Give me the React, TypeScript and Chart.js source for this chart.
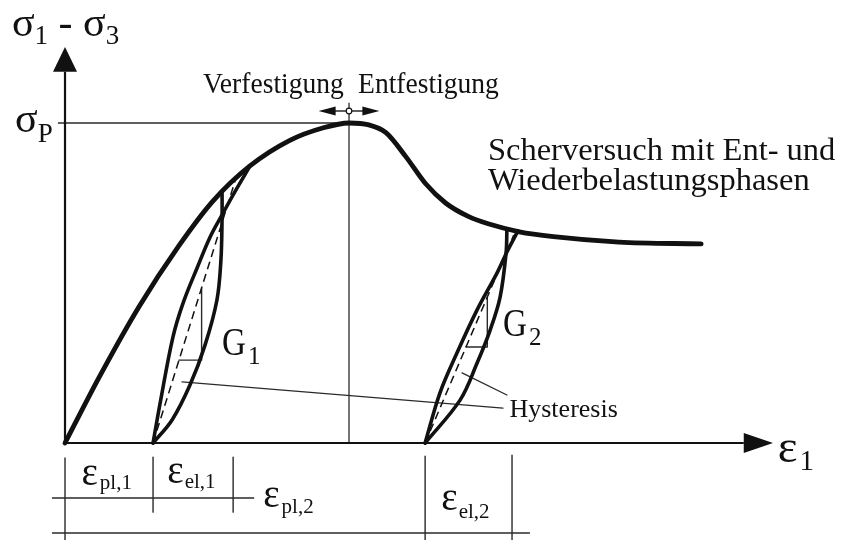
import React, { useEffect, useRef } from 'react';
import { Chart, registerables } from 'chart.js';

Chart.register(...registerables);

const FONT = '"Liberation Serif", "Times New Roman", serif';
const INK = '#111111';
const THIN = '#2a2a2a';

// Strain ε1 (arbitrary units) against deviator stress σ1-σ3 (peak σP = 100)
const envelopeEps = [0, 1.2, 2.6, 4.0, 5.2, 6.5, 7.9, 9.1, 10, 10.7, 11.3, 12.0, 12.7, 13.4, 14.2, 14.9, 16.0, 17.2, 19.5, 22.4];
const envelopeSig = [0, 20.5, 42.5, 61.5, 75.5, 86.5, 94.5, 98.5, 100, 99.4, 97, 89.5, 81, 75, 70.8, 68.5, 66, 64.5, 62.8, 62.2];

// first unloading / reloading cycle (hardening branch)
const unload1Eps = [5.53, 5.53, 5.49, 5.35, 4.93, 4.40, 3.77, 3.10];
const unload1Sig = [78.6, 70.3, 57.2, 44.7, 30.6, 18.1, 7.2, 0];
const reload1Eps = [3.10, 3.35, 3.80, 4.16, 4.65, 5.11, 5.53, 6.02, 6.51];
const reload1Sig = [0, 12.5, 33.1, 43.8, 54.7, 64.4, 71.3, 79.1, 86.5];

// second unloading / reloading cycle (softening branch)
const unload2Eps = [15.56, 15.53, 15.32, 14.97, 14.51, 13.91, 12.68];
const unload2Sig = [66.9, 59.4, 45.6, 35.3, 25.0, 13.4, 0];
const reload2Eps = [12.68, 13.20, 13.80, 14.51, 15.21, 15.56, 15.95];
const reload2Sig = [0, 15.6, 28.1, 41.6, 53.1, 59.7, 66.3];

// secant moduli G1, G2 and their slope triangles
const secant1Eps = [3.10, 6.02];
const secant1Sig = [0, 82.8];
const secant2Eps = [12.68, 15.80];
const secant2Sig = [0, 65.0];
const slope1Eps = [4.81, 4.81, 4.01];
const slope1Sig = [48.4, 25.9, 25.9];
const slope2Eps = [14.87, 14.87, 14.12];
const slope2Sig = [45.6, 30.0, 30.0];

// leader lines of the "Hysteresis" note
const leader1Eps = [4.12, 15.42];
const leader1Sig = [19.1, 10.9];
const leader2Eps = [15.56, 13.98];
const leader2Sig = [15.0, 21.9];

// peak marks
const peakEps = 10;
const peakLineTop = 106.3;
const peakArrowSig = 103.75;
const peakArrowTips = [8.93, 11.07];
const sigmaP = 100;
const sigmaPLineStart = -0.25;

// axes
const yAxisEnd = 116;
const yAxisTip = 123.75;
const xAxisEnd = 23.9;
const xAxisTip = 24.93;

// strain dimension lines below the axis
const dimEps = [0, 3.10, 5.92, 12.68, 15.74];
const dimTop = [-4.7, -4.4, -4.4, -4.1, -3.8];
const dimBottom = [-31, -21.6, -21.6, -31, -31];
const dimRowSig = [-17.2, -28.1];
const dimRowStart = [-0.46, -0.46];
const dimRowEnd = [6.66, 16.37];

type Seg = { t: string; size: number; dy?: number; gap?: number; sx?: number };
type Label = { e: number; s: number; segs: Seg[] };

const labels: Label[] = [
  { e: -1.87, s: 127.2, segs: [{ t: 'σ', size: 42 }, { t: '1', size: 27, dy: 8 }, { t: ' - ', size: 42 }, { t: 'σ', size: 42 }, { t: '3', size: 27, dy: 8 }] },
  { e: -1.76, s: 97.2, segs: [{ t: 'σ', size: 42 }, { t: 'P', size: 27, dy: 10 }] },
  { e: 4.86, s: 109.4, segs: [{ t: 'Verfestigung', size: 29, sx: 0.95 }] },
  { e: 10.32, s: 109.4, segs: [{ t: 'Entfestigung', size: 29, sx: 0.95 }] },
  { e: 14.89, s: 88.4, segs: [{ t: 'Scherversuch mit Ent- und', size: 32.5 }] },
  { e: 14.89, s: 79.1, segs: [{ t: 'Wiederbelastungsphasen', size: 32.5 }] },
  { e: 5.53, s: 27.5, segs: [{ t: 'G', size: 39, sx: 0.85, gap: 2 }, { t: '1', size: 25, dy: 9 }] },
  { e: 15.42, s: 33.4, segs: [{ t: 'G', size: 39, sx: 0.85, gap: 2 }, { t: '2', size: 25, dy: 9 }] },
  { e: 15.65, s: 8.1, segs: [{ t: 'Hysteresis', size: 26 }] },
  { e: 25.1, s: -5.9, segs: [{ t: 'ε', size: 47, gap: 2 }, { t: '1', size: 29, dy: 8 }] },
  { e: 0.58, s: -13.1, segs: [{ t: 'ε', size: 39, gap: 2 }, { t: 'pl,1', size: 21, dy: 4 }] },
  { e: 3.60, s: -12.5, segs: [{ t: 'ε', size: 39, gap: 1 }, { t: 'el,1', size: 21, dy: 5 }] },
  { e: 6.98, s: -20.0, segs: [{ t: 'ε', size: 39, gap: 2 }, { t: 'pl,2', size: 21, dy: 6 }] },
  { e: 13.25, s: -20.9, segs: [{ t: 'ε', size: 39, gap: 1 }, { t: 'el,2', size: 21, dy: 8 }] },
];

const pts = (xs: number[], ys: number[]) => xs.map((x, i) => ({ x, y: ys[i] }));

const seg = (data: { x: number; y: number }[], width: number, extra: Record<string, unknown> = {}) => ({
  data,
  showLine: true,
  borderColor: INK,
  borderWidth: width,
  pointRadius: 0,
  pointHoverRadius: 0,
  fill: false,
  tension: 0,
  borderCapStyle: 'round',
  borderJoinStyle: 'round',
  ...extra,
});

const annotate = {
  id: 'annotate',
  afterDatasetsDraw(chart: any) {
    const { ctx } = chart;
    const X = (v: number) => chart.scales.x.getPixelForValue(v);
    const Y = (v: number) => chart.scales.y.getPixelForValue(v);
    const tri = (a: number[], b: number[], c: number[]) => {
      ctx.beginPath();
      ctx.moveTo(a[0], a[1]);
      ctx.lineTo(b[0], b[1]);
      ctx.lineTo(c[0], c[1]);
      ctx.closePath();
      ctx.fill();
    };
    ctx.save();
    ctx.fillStyle = INK;

    // axis arrowheads
    const ox = X(0);
    const oy = Y(0);
    tri([ox, Y(yAxisTip)], [ox - 12, Y(yAxisEnd)], [ox + 12, Y(yAxisEnd)]);
    tri([X(xAxisTip), oy], [X(xAxisEnd), oy - 10], [X(xAxisEnd), oy + 10]);

    // hardening / softening arrows at the peak
    const ay = Y(peakArrowSig);
    const lt = X(peakArrowTips[0]);
    const rt = X(peakArrowTips[1]);
    ctx.strokeStyle = THIN;
    ctx.lineWidth = 1.3;
    ctx.beginPath();
    ctx.moveTo(lt + 10, ay);
    ctx.lineTo(rt - 10, ay);
    ctx.stroke();
    tri([lt, ay], [lt + 17, ay - 4.5], [lt + 17, ay + 4.5]);
    tri([rt, ay], [rt - 17, ay - 4.5], [rt - 17, ay + 4.5]);
    ctx.beginPath();
    ctx.arc(X(peakEps), ay, 2.8, 0, Math.PI * 2);
    ctx.fillStyle = '#ffffff';
    ctx.fill();
    ctx.strokeStyle = INK;
    ctx.lineWidth = 1.2;
    ctx.stroke();

    // text
    ctx.fillStyle = INK;
    ctx.textBaseline = 'alphabetic';
    ctx.textAlign = 'left';
    for (const lab of labels) {
      let x = X(lab.e);
      const y = Y(lab.s);
      for (const s of lab.segs) {
        const sx = s.sx ?? 1;
        ctx.font = `${s.size}px ${FONT}`;
        ctx.save();
        ctx.translate(x, y + (s.dy ?? 0));
        ctx.scale(sx, 1);
        ctx.fillText(s.t, 0, 0);
        ctx.restore();
        x += ctx.measureText(s.t).width * sx + (s.gap ?? 0);
      }
    }
    ctx.restore();
  },
};

export default function App() {
  const canvasRef = useRef<HTMLCanvasElement | null>(null);

  useEffect(() => {
    const canvas = canvasRef.current;
    if (!canvas) return;

    const datasets: any[] = [
      seg(pts(envelopeEps, envelopeSig), 4.8, { cubicInterpolationMode: 'monotone' }),
      seg(pts(unload1Eps, unload1Sig), 3.6, { tension: 0.35 }),
      seg(pts(reload1Eps, reload1Sig), 3.6, { tension: 0.35 }),
      seg(pts(unload2Eps, unload2Sig), 3.6, { tension: 0.35 }),
      seg(pts(reload2Eps, reload2Sig), 3.6, { tension: 0.35 }),
      seg(pts([0, 0], [0, yAxisEnd]), 2.2, { borderCapStyle: 'butt' }),
      seg(pts([0, xAxisEnd], [0, 0]), 2.2, { borderCapStyle: 'butt' }),
      seg(pts(secant1Eps, secant1Sig), 1.5, { borderDash: [8, 5], borderCapStyle: 'butt' }),
      seg(pts(secant2Eps, secant2Sig), 1.5, { borderDash: [8, 5], borderCapStyle: 'butt' }),
      seg(pts(slope1Eps, slope1Sig), 1.4, { borderColor: THIN }),
      seg(pts(slope2Eps, slope2Sig), 1.4, { borderColor: THIN }),
      seg(pts(leader1Eps, leader1Sig), 1.3, { borderColor: THIN }),
      seg(pts(leader2Eps, leader2Sig), 1.3, { borderColor: THIN }),
      seg(pts([peakEps, peakEps], [0, peakLineTop]), 1.3, { borderColor: THIN, borderCapStyle: 'butt' }),
      seg(pts([sigmaPLineStart, peakEps], [sigmaP, sigmaP]), 1.6, { borderColor: THIN, borderCapStyle: 'butt' }),
    ];
    dimEps.forEach((e, i) => {
      datasets.push(seg(pts([e, e], [dimTop[i], dimBottom[i]]), 1.4, { borderColor: THIN, borderCapStyle: 'butt' }));
    });
    dimRowSig.forEach((s, i) => {
      datasets.push(seg(pts([dimRowStart[i], dimRowEnd[i]], [s, s]), 1.6, { borderColor: THIN, borderCapStyle: 'butt' }));
    });

    const chart = new Chart(canvas, {
      type: 'scatter',
      data: { datasets },
      options: {
        animation: false,
        responsive: false,
        devicePixelRatio: 1,
        layout: { padding: 0 },
        events: [],
        plugins: { legend: { display: false }, tooltip: { enabled: false }, title: { display: false } },
        scales: {
          x: { type: 'linear', min: -2.289, max: 27.394, display: false },
          y: { type: 'linear', min: -30.31, max: 138.44, display: false },
        },
      },
      plugins: [annotate],
    });
    return () => chart.destroy();
  }, []);

  return (
    <div style={{ position: 'fixed', left: 0, top: 0, width: 843, height: 540, background: '#ffffff' }}>
      <canvas ref={canvasRef} width={843} height={540} style={{ display: 'block' }} />
    </div>
  );
}
